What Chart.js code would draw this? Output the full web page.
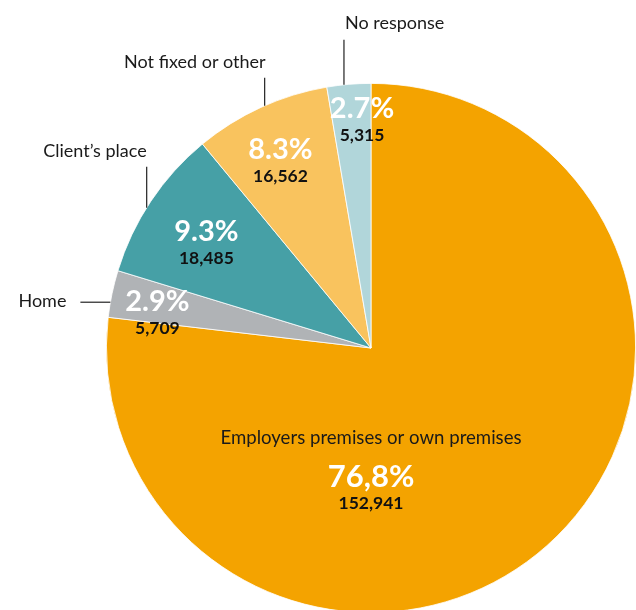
<!DOCTYPE html>
<html lang="en">
<head>
<meta charset="UTF-8">
<title>Place of work</title>
<script src="https://cdn.jsdelivr.net/npm/chart.js"></script>
<style>
  body { margin: 0; background: #fff; overflow: hidden; }
  #wrap { position: relative; width: 636px; height: 620px; }
</style>
</head>
<body>
<div id="wrap"><canvas id="pieCanvas"></canvas></div>
<script>
// data, clockwise from 12 o'clock
const categories = ['Employers premises or own premises', 'Home', 'Client\u2019s place', 'Not fixed or other', 'No response'];
const counts = [152941, 5709, 18485, 16562, 5315];
const percentLabels = ['76,8%', '2.9%', '9.3%', '8.3%', '2.7%'];
const countLabels = ['152,941', '5,709', '18,485', '16,562', '5,315'];
const sliceColors = ['#F4A300', '#B0B3B6', '#46A0A6', '#F9C35E', '#B1D6DA'];

const FONT = 'Lato, "Open Sans", sans-serif';

// label placement inside the small slices: at = fraction across the slice, r = fraction of radius
const insideLabels = [null,
    { at: 0.25,  r: 0.818 },
    { at: 0.465, r: 0.738 },
    { at: 0.458, r: 0.785 },
    { at: 0.765, r: 0.861 }
];

// leader lines for the small slices
const callouts = [
    { index: 4, at: 0.39, dir: 'up',   len: 45, align: 'left',  dx: 1,   dy: -17 },
    { index: 3, at: 0.53, dir: 'up',   len: 28, align: 'right', dx: 1,   dy: -16 },
    { index: 2, at: 0.45, dir: 'up',   len: 41, align: 'right', dx: 0,   dy: -15 },
    { index: 1, at: 0.32, dir: 'left', len: 30, align: 'right', dx: -14, dy: -1 }
];

const labelPlugin = {
    id: 'sliceLabels',
    afterDraw(chart) {
        const ctx = chart.ctx;
        const arcs = chart.getDatasetMeta(0).data;
        ctx.save();
        ctx.textBaseline = 'middle';

        arcs.forEach((arc, i) => {
            const cx = arc.x, cy = arc.y, r = arc.outerRadius;
            let px, py, gap, pctSize;
            if (i === 0) {
                ctx.textAlign = 'center';
                ctx.fillStyle = '#1a1a1a';
                ctx.font = '18.6px ' + FONT;
                ctx.fillText(categories[0], cx, cy + 90);
                px = cx; py = cy + 128.5; gap = 27; pctSize = 31;
            } else {
                const p = insideLabels[i];
                const a = arc.startAngle + (arc.endAngle - arc.startAngle) * p.at;
                px = cx + Math.cos(a) * r * p.r;
                py = cy + Math.sin(a) * r * p.r - 11.25;
                gap = 26.5; pctSize = 29;
            }
            ctx.textAlign = 'center';
            ctx.fillStyle = '#ffffff';
            ctx.font = 'bold ' + pctSize + 'px ' + FONT;
            ctx.fillText(percentLabels[i], px, py);
            ctx.fillStyle = '#111111';
            ctx.font = 'bold 17.5px ' + FONT;
            ctx.fillText(countLabels[i], px, py + gap);
        });

        ctx.strokeStyle = '#222';
        ctx.lineWidth = 1.2;
        callouts.forEach(c => {
            const arc = arcs[c.index];
            const a = arc.startAngle + (arc.endAngle - arc.startAngle) * c.at;
            const x0 = arc.x + Math.cos(a) * arc.outerRadius;
            const y0 = arc.y + Math.sin(a) * arc.outerRadius;
            const x1 = c.dir === 'up' ? x0 : x0 - c.len;
            const y1 = c.dir === 'up' ? y0 - c.len : y0;
            ctx.beginPath();
            ctx.moveTo(x0, y0);
            ctx.lineTo(x1, y1);
            ctx.stroke();
            ctx.fillStyle = '#1a1a1a';
            ctx.font = '18px ' + FONT;
            ctx.textAlign = c.align;
            ctx.fillText(categories[c.index], x1 + c.dx, y1 + c.dy);
        });
        ctx.restore();
    }
};

new Chart(document.getElementById('pieCanvas'), {
    type: 'pie',
    data: {
        labels: categories,
        datasets: [{
            data: counts,
            backgroundColor: sliceColors,
            borderColor: '#ffffff',
            borderWidth: 0.8
        }]
    },
    options: {
        responsive: true,
        maintainAspectRatio: false,
        animation: false,
        layout: { padding: { left: 106, right: 0, top: 83, bottom: 7 } },
        plugins: {
            legend: { display: false },
            tooltip: { enabled: false }
        }
    },
    plugins: [labelPlugin]
});
</script>
</body>
</html>
